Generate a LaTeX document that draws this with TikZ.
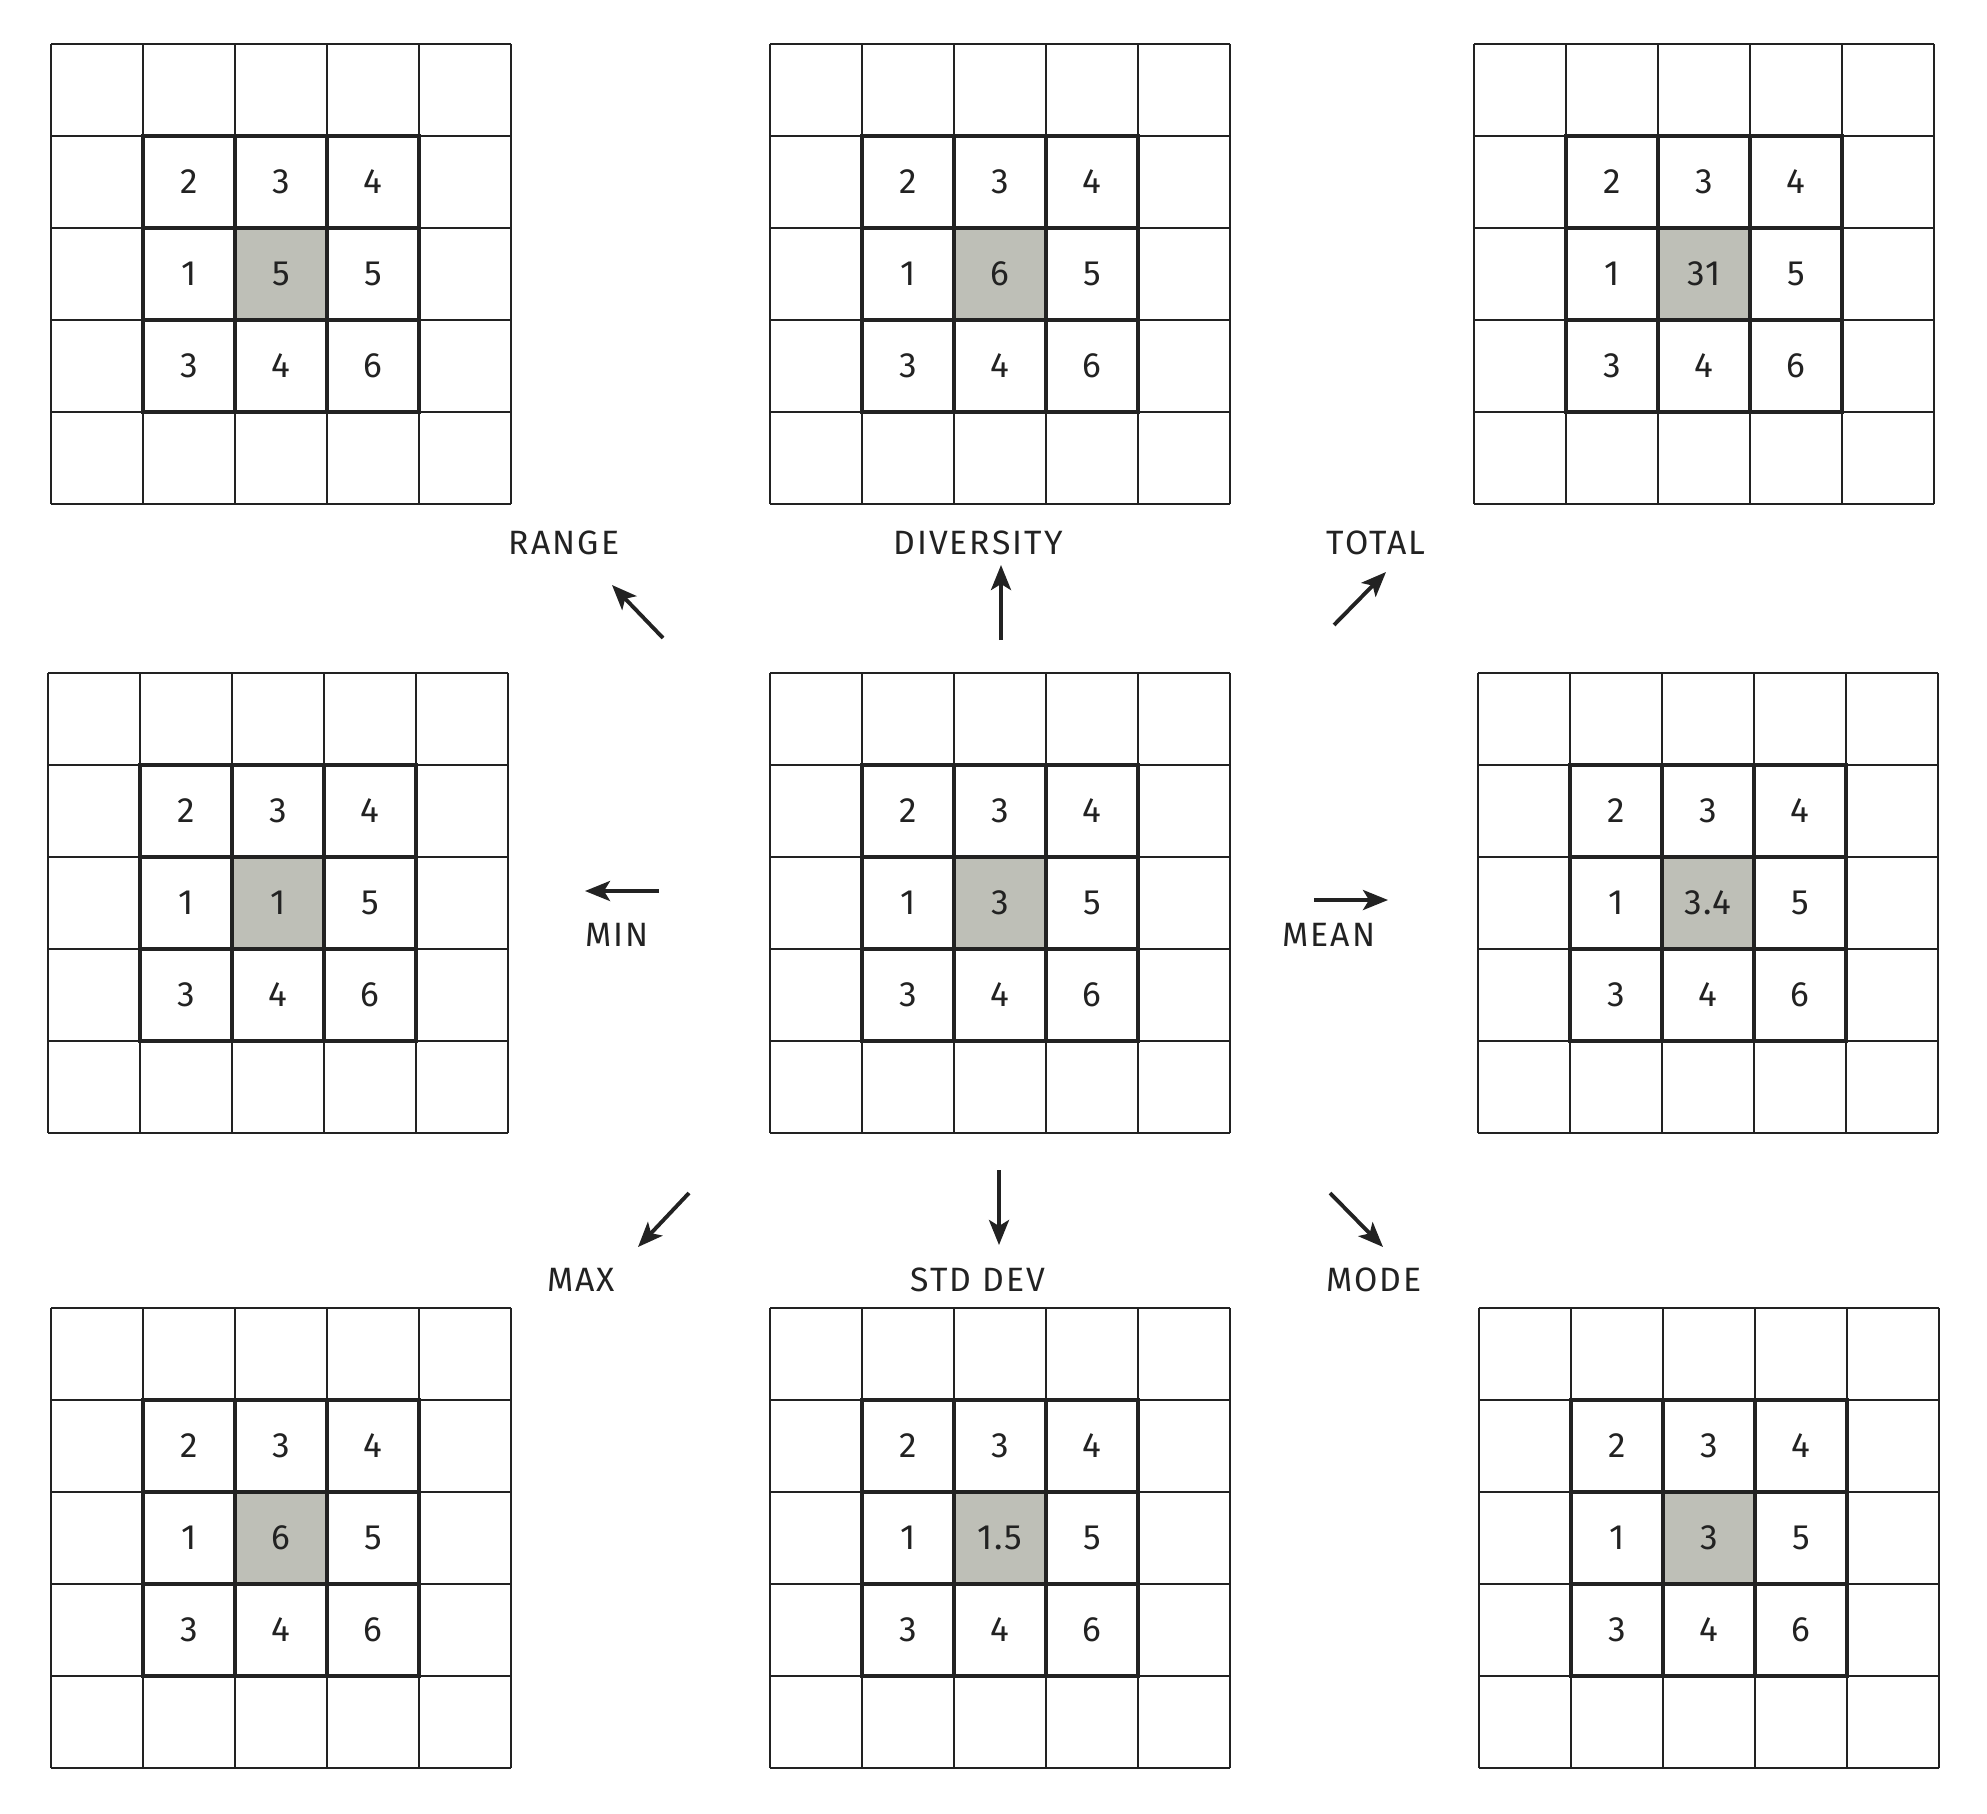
\documentclass[tikz,border=0pt]{standalone}
\usepackage{fontspec}
\setmainfont{Fira Sans}
\usetikzlibrary{arrows.meta}
\definecolor{cellgray}{RGB}{190,191,183}
\definecolor{ink}{RGB}{34,34,34}

\begin{document}
\begin{tikzpicture}
  [cell/.style={draw=ink,line width=0.6pt},
    window/.style={draw=ink,line width=1.3pt},
    val/.style={font=\fontsize{10}{10}\selectfont\addfontfeature{LetterSpace=4},text=ink,inner sep=0pt},
    op/.style={font=\fontsize{9.6}{9.6}\selectfont\addfontfeature{LetterSpace=6},text=ink,inner sep=0pt},
    flow/.style={draw=ink,line width=1.1pt,-{Stealth[length=2.5mm,width=2mm,inset=0.6mm]}},
  ]
  \useasboundingbox (0,0) rectangle (19.87,-18.13);

  % the nine windows
  \foreach \n/\x/\y/\v in {range/0.51/-0.44/5, diversity/7.70/-0.44/6, total/14.74/-0.44/31,
    min/0.48/-6.73/1, input/7.70/-6.73/3, mean/14.78/-6.73/3.4,
    max/0.51/-13.08/6, stddev/7.70/-13.08/1.5, mode/14.79/-13.08/3} {
    \begin{scope}[shift={(\x,\y)}]
      \fill[cellgray] (1.84,-1.84) rectangle (2.76,-2.76);
      \foreach \i in {0,...,5} {
        \draw[cell] (\i*0.92,0) -- (\i*0.92,-4.6);
        \draw[cell] (0,-\i*0.92) -- (4.6,-\i*0.92);
      }
      \draw[window] (0.92,-0.92) rectangle (3.68,-3.68);
      \foreach \i in {2,3} {
        \draw[window] (\i*0.92,-0.92) -- (\i*0.92,-3.68);
        \draw[window] (0.92,-\i*0.92) -- (3.68,-\i*0.92);
      }
      \foreach \t [count=\k from 0] in {2,3,4,1,\v,5,3,4,6} {
        \pgfmathtruncatemacro\col{mod(\k,3)}
        \pgfmathtruncatemacro\row{int(\k/3)}
        \node[val] (\n-\k) at ({(\col+1.5)*0.92},{-(\row+1.5)*0.92}) {\t};
      }
    \end{scope}
  }

  % operations
  \foreach \n/\lx/\ly/\txt/\ax/\ay/\bx/\by in {
    range/5.64/-5.43/RANGE/6.63/-6.38/6.12/-5.85,
    diversity/9.78/-5.43/DIVERSITY/10.01/-6.40/10.01/-5.65,
    total/13.76/-5.43/TOTAL/13.34/-6.25/13.86/-5.72,
    min/6.17/-9.35/MIN/6.59/-8.91/5.85/-8.91,
    mean/13.29/-9.35/MEAN/13.14/-9.00/13.88/-9.00,
    max/5.81/-12.80/MAX/6.89/-11.93/6.38/-12.47,
    stddev/9.78/-12.80/STD DEV/9.99/-11.70/9.99/-12.45,
    mode/13.74/-12.80/MODE/13.30/-11.93/13.83/-12.47} {
    \node[op] (\n-label) at (\lx,\ly) {\txt};
    \coordinate (\n-tail) at (\ax,\ay);
    \coordinate (\n-head) at (\bx,\by);
    \draw[flow] (\n-tail) -- (\n-head);
  }
\end{tikzpicture}
\end{document}
